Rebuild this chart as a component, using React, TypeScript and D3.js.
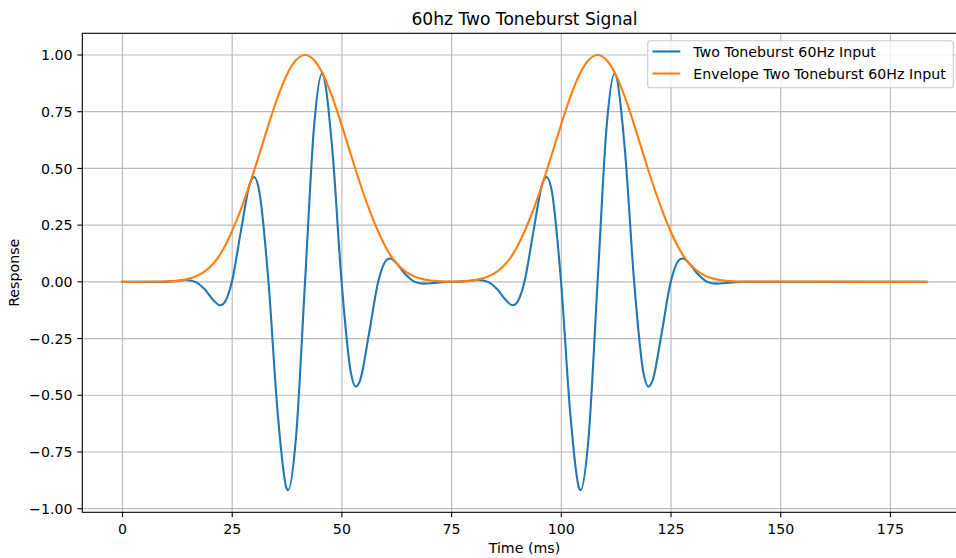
import React from "react";
import * as d3 from "d3";

// Sample times (ms)
const timeMs: number[] = [
  0, 8.27, 10.35, 12.43, 14.52, 16.6, 18.68, 20.77, 22.17, 22.85, 24.93, 27.02, 29.1, 30.0, 31.18, 33.27,
  35.35, 37.43, 37.74, 39.52, 41.6, 43.68, 45.46, 45.77, 47.85, 49.93, 52.02, 53.2, 54.1, 56.18, 58.27,
  60.35, 61.03, 62.43, 64.52, 66.6, 68.68, 70.77, 72.85, 74.93,
  77.02, 79.1, 81.19, 83.27, 85.35, 87.44, 88.84, 89.52, 91.6, 93.69, 95.77, 96.67, 97.85, 99.94, 102.02,
  104.1, 104.41, 106.19, 108.27, 110.35, 112.13, 112.44, 114.52, 116.6, 118.69, 119.87, 120.77, 122.85,
  124.94, 127.02, 127.7, 129.1, 131.19, 133.27, 135.35, 137.44, 139.52, 141.6, 183.2,
];

// Two Toneburst 60Hz Input
const toneburstInput: number[] = [
  0, 0, 0.001, 0.005, 0.008, 0, -0.032, -0.082, -0.103, -0.099, 0, 0.228, 0.437, 0.462, 0.398, 0,
  -0.575, -0.912, -0.918, -0.691, 0, 0.691, 0.918, 0.912, 0.575, 0, -0.398, -0.462, -0.437, -0.228, 0,
  0.099, 0.103, 0.082, 0.032, 0, -0.008, -0.005, -0.001, 0,
  0.001, 0.005, 0.008, 0, -0.032, -0.082, -0.103, -0.099, 0, 0.228, 0.437, 0.462, 0.398, 0, -0.575,
  -0.912, -0.918, -0.691, 0, 0.691, 0.918, 0.912, 0.575, 0, -0.398, -0.462, -0.437, -0.228,
  0, 0.099, 0.103, 0.082, 0.032, 0, -0.008, -0.005, -0.001, 0, 0,
];

// Envelope Two Toneburst 60Hz Input
const envelopeInput: number[] = [
  0, 0.001, 0.002, 0.005, 0.011, 0.023, 0.045, 0.082, 0.118, 0.14, 0.222, 0.322, 0.437, 0.49, 0.563, 0.692,
  0.813, 0.912, 0.924, 0.977, 1.0, 0.977, 0.924, 0.912, 0.813, 0.692, 0.563, 0.49, 0.437, 0.322, 0.222,
  0.14, 0.118, 0.082, 0.045, 0.023, 0.011, 0.005, 0.002, 0.001,
  0.002, 0.005, 0.011, 0.023, 0.045, 0.082, 0.118, 0.14, 0.222, 0.322, 0.437, 0.49, 0.563, 0.692, 0.813,
  0.912, 0.924, 0.977, 1.0, 0.977, 0.924, 0.912, 0.813, 0.692, 0.563, 0.49, 0.437, 0.322,
  0.222, 0.14, 0.118, 0.082, 0.045, 0.023, 0.011, 0.005, 0.002, 0.001, 0,
];

const xTicks: number[] = [0, 25, 50, 75, 100, 125, 150, 175];
const yTicks: number[] = [-1, -0.75, -0.5, -0.25, 0, 0.25, 0.5, 0.75, 1];
const seriesNames: string[] = ["Two Toneburst 60Hz Input", "Envelope Two Toneburst 60Hz Input"];
const seriesColors: string[] = ["#1f77b4", "#ff7f0e"];
const titleText = "60hz Two Toneburst Signal";
const xLabel = "Time (ms)";
const yLabel = "Response";

const W = 956;
const H = 558;
const axL = 82.3;
const axR = 966.6;
const axT = 33.3;
const axB = 512.3;
const FONT = "'DejaVu Sans', sans-serif";

const fmtY = (v: number) => {
  const s = d3.format(".2f")(Math.abs(v));
  return v < 0 ? "\u2212" + s : s;
};

export default function App() {
  const x = d3.scaleLinear().domain([-9.16, 192.36]).range([axL, axR]);
  const y = d3.scaleLinear().domain([-1.0159, 1.0957]).range([axB, axT]);

  const lineGen = d3
    .line<number>()
    .x((_, i) => x(timeMs[i]))
    .y((d) => y(d))
    .curve(d3.curveMonotoneX);

  const series = [toneburstInput, envelopeInput];
  const tickLen = 4.86;
  const fs = 14.2;

  return (
    <svg
      width={W}
      height={H}
      style={{ position: "absolute", left: 0, top: 0, display: "block", background: "#fff" }}
      fontFamily={FONT}
    >
      <defs>
        <clipPath id="plotClip">
          <rect x={axL} y={axT} width={axR - axL} height={axB - axT} />
        </clipPath>
      </defs>
      <rect x={0} y={0} width={W} height={H} fill="#fff" />
      {/* grid */}
      <g stroke="#b0b0b0" strokeWidth={1.2} strokeOpacity={0.85}>
        {xTicks.map((t) => (
          <line key={"gx" + t} x1={x(t)} x2={x(t)} y1={axT} y2={axB} />
        ))}
        {yTicks.map((t) => (
          <line key={"gy" + t} x1={axL} x2={axR} y1={y(t)} y2={y(t)} />
        ))}
      </g>
      {/* series */}
      <g clipPath="url(#plotClip)" fill="none" strokeWidth={2.1} strokeLinejoin="round" strokeLinecap="square">
        {series.map((s, i) => (
          <path key={i} d={lineGen(s) || ""} stroke={seriesColors[i]} />
        ))}
      </g>
      {/* spines */}
      <rect x={axL} y={axT} width={axR - axL} height={axB - axT} fill="none" stroke="#000" strokeWidth={1.1} />
      {/* x ticks */}
      <g>
        {xTicks.map((t) => (
          <g key={"xt" + t}>
            <line x1={x(t)} x2={x(t)} y1={axB} y2={axB + tickLen} stroke="#000" strokeWidth={1.1} />
            <text x={x(t)} y={axB + 21.5} fontSize={fs} textAnchor="middle" fill="#000">
              {String(t)}
            </text>
          </g>
        ))}
      </g>
      {/* y ticks */}
      <g>
        {yTicks.map((t) => (
          <g key={"yt" + t}>
            <line x1={axL - tickLen} x2={axL} y1={y(t)} y2={y(t)} stroke="#000" strokeWidth={1.1} />
            <text x={axL - tickLen - 4.86} y={y(t) + 5.1} fontSize={fs} textAnchor="end" fill="#000">
              {fmtY(t)}
            </text>
          </g>
        ))}
      </g>
      {/* labels */}
      <text x={(axL + axR) / 2} y={25} fontSize={17.1} textAnchor="middle" fill="#000">
        {titleText}
      </text>
      <text x={(axL + axR) / 2} y={553} fontSize={fs} textAnchor="middle" fill="#000">
        {xLabel}
      </text>
      <text
        transform={`translate(19,${(axT + axB) / 2}) rotate(-90)`}
        fontSize={fs}
        textAnchor="middle"
        fill="#000"
      >
        {yLabel}
      </text>
      {/* legend */}
      <g>
        <rect
          x={647.7}
          y={40.7}
          width={305.6}
          height={47}
          rx={2.8}
          fill="#fff"
          fillOpacity={0.8}
          stroke="#cccccc"
          strokeWidth={1.1}
        />
        {seriesNames.map((name, i) => (
          <g key={name}>
            <line
              x1={652.5}
              x2={680.3}
              y1={51.5 + i * 22}
              y2={51.5 + i * 22}
              stroke={seriesColors[i]}
              strokeWidth={2.1}
            />
            <text x={693.3} y={56.5 + i * 22} fontSize={fs} fill="#000">
              {name}
            </text>
          </g>
        ))}
      </g>
    </svg>
  );
}
